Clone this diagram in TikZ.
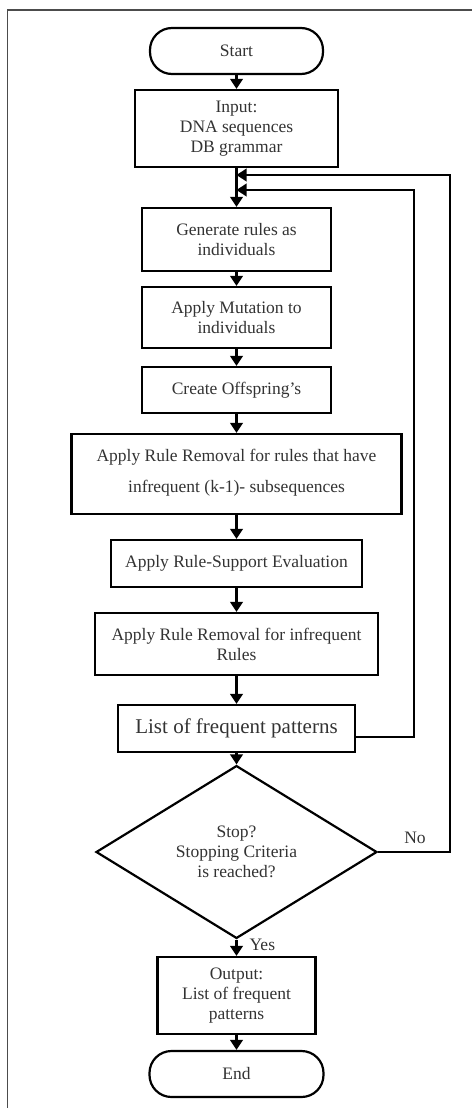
\documentclass[tikz,border=0pt]{standalone}
\usepackage{fontspec}
\setmainfont{Liberation Serif}
\usetikzlibrary{arrows.meta,shapes.geometric,calc}
\begin{document}
\begin{tikzpicture}[x=1pt,y=-1pt,
  box/.style={draw=black,line width=2.2pt,inner sep=0pt,align=center,text=black!80,
    font=\fontsize{17.5}{20}\selectfont},
  term/.style={box,rounded corners=22pt},
  arr/.style={line width=2.2pt,-{Triangle[length=10pt,width=12.5pt]}},
  lbl/.style={text=black!80,font=\fontsize{17.5}{20}\selectfont,inner sep=0pt}]
\useasboundingbox (0,0) rectangle (472,1108);
\draw[line width=1.3pt,black!70] (7.5,1108) -- (7.5,10) -- (472,10);

\node[term,minimum width=173pt,minimum height=46pt] (start) at (236.5,51) {Start};
\node[box,minimum width=203pt,minimum height=77pt] (input) at (236.5,128.5) {Input:\\DNA sequences\\DB grammar};
\node[box,minimum width=189pt,minimum height=63pt] (gen) at (236.5,239.5) {Generate rules as\\individuals};
\node[box,minimum width=189pt,minimum height=61pt] (mut) at (236.5,317.5) {Apply Mutation to\\individuals};
\node[box,minimum width=189pt,minimum height=46pt] (off) at (236.5,390) {\raisebox{3pt}{Create Offspring’s}};
\node[box,minimum width=330pt,minimum height=80pt] (rr1) at (236.5,474) {\raisebox{6pt}{\shortstack{Apply Rule Removal for rules that have\\[12pt]infrequent (k-1)- subsequences}}};
\node[box,minimum width=251pt,minimum height=47pt] (rs) at (236.5,563.5) {\raisebox{4pt}{Apply Rule-Support Evaluation}};
\node[box,minimum width=283pt,minimum height=62pt] (rr2) at (236.5,644) {Apply Rule Removal for infrequent\\Rules};
\node[box,minimum width=237pt,minimum height=47pt,font=\fontsize{21}{24}\selectfont] (list) at (236.5,728.5) {\raisebox{3pt}{List of frequent patterns}};
\node[box,shape=diamond,minimum width=281pt,minimum height=137pt] (dia) at (236.5,852) {Stop?\\Stopping Criteria\\is reached?};
\node[box,minimum width=158pt,minimum height=77pt] (out) at (236.5,995.5) {Output:\\List of frequent\\patterns};
\node[term,minimum width=174pt,minimum height=46pt] (end) at (236.5,1074) {End};

\coordinate (j1) at (236.5,175);
\coordinate (j2) at (236.5,190);
\coordinate (c1) at (450,852);
\coordinate (c2) at (450,175);
\coordinate (c3) at (414,737);
\coordinate (c4) at (414,190);

\draw[arr] (start) -- (input);
\draw[arr] (input) -- (gen);
\draw[arr] (gen) -- (mut);
\draw[arr] (mut) -- (off);
\draw[arr] (off) -- (rr1);
\draw[arr] (rr1) -- (rs);
\draw[arr] (rs) -- (rr2);
\draw[arr] (rr2) -- (list);
\draw[arr] (list) -- (dia);
\draw[arr] (dia) -- node[lbl,right=12pt,pos=0.3] (yes) {Yes} (out);
\draw[arr] (out) -- (end);
\draw[arr] (dia.east) -- (c1) -- (c2) -- (j1);
\draw[arr] ($(list.east)+(0,8.5)$) -- (c3) -- (c4) -- (j2);
\node[lbl] (no) at (415,838) {No};
\end{tikzpicture}
\end{document}
